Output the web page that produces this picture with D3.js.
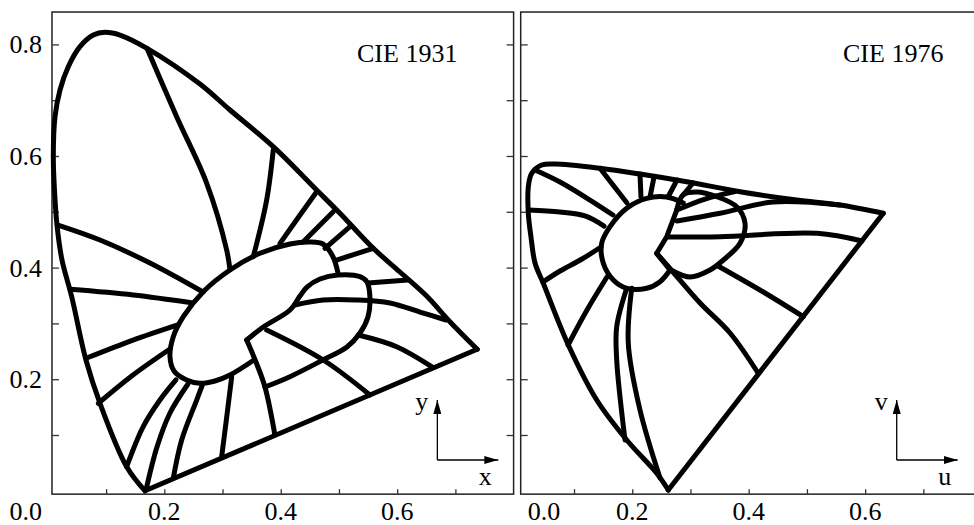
<!DOCTYPE html>
<html>
<head>
<meta charset="utf-8">
<script src="https://cdn.jsdelivr.net/npm/d3@7"></script>
<style>
  body { margin: 0; background: #fff; }
  svg { display: block; }
  text { font-family: "Liberation Serif", "Times New Roman", Times, serif; fill: #000; }
</style>
</head>
<body>
<svg id="chart" width="974" height="525"></svg>
<script>
// ---- data (chromaticity coordinates) ----
var xTicks = [0.1, 0.2, 0.3, 0.4, 0.5, 0.6, 0.7];
var yTicks = [0.1, 0.2, 0.3, 0.4, 0.5, 0.6, 0.7, 0.8];
var yTickLabels = ["0.8", "0.6", "0.4", "0.2"];
var xTickLabels = ["0.2", "0.4", "0.6"];

// CIE 1931 x,y
var locus1931 = [[0.1668,0.000],[0.1353,0.0432],[0.0895,0.1568],[0.0654,0.2344],[0.0409,0.3478],[0.0242,0.4136],
  [0.0156,0.4763],[0.0113,0.539],[0.0093,0.5987],[0.0122,0.6704],[0.0208,0.7183],[0.035,0.76],[0.0551,0.7959],
  [0.078,0.8168],[0.0981,0.8217],[0.1238,0.8168],[0.1702,0.793],[0.2612,0.729],[0.3128,0.6824],[0.3871,0.6167],
  [0.4617,0.539],[0.5017,0.4973],[0.5589,0.4346],[0.6048,0.3921],[0.6506,0.3491],[0.6906,0.303],[0.7375,0.2536]];
var purple1931 = [[0.7375,0.2536],[0.1668,0.000]];
var ellipse1931 = [[0.354,0.2344],[0.3128,0.2075],[0.287,0.1968],[0.2612,0.1926],[0.2384,0.1986],[0.2166,0.2147],
  [0.2097,0.2403],[0.2154,0.2762],[0.2326,0.312],[0.2669,0.3568],[0.3128,0.3957],[0.3643,0.4256],[0.4158,0.4423],
  [0.4502,0.4459],[0.4725,0.4423],[0.4897,0.4195],[0.4983,0.3903]];
var lobe1931 = [[0.3415,0.2702],[0.37,0.2935],[0.4158,0.324],[0.433,0.3491],[0.445,0.3652],[0.4674,0.3796],
  [0.4983,0.3867],[0.5361,0.3837],[0.5481,0.3742],[0.5532,0.3473],[0.5498,0.3115],[0.5361,0.2828],[0.5137,0.2577],
  [0.4725,0.2344],[0.4158,0.2045],[0.3729,0.186]];
var spokes1931 = [
  [[0.1702,0.793],[0.2212,0.6704],[0.2728,0.5511],[0.3071,0.4315],[0.3128,0.3957]],
  [[0.0173,0.4763],[0.0895,0.4495],[0.1754,0.4082],[0.2664,0.3563]],
  [[0.038,0.3611],[0.1467,0.3509],[0.2492,0.3366]],
  [[0.0666,0.238],[0.1462,0.2702],[0.2217,0.2971]],
  [[0.0866,0.1568],[0.1462,0.2075],[0.2097,0.2541]],
  [[0.1353,0.0432],[0.1633,0.1143],[0.1925,0.1627],[0.22,0.1986]],
  [[0.1685,0.0014],[0.1874,0.0785],[0.2097,0.1394],[0.2406,0.1914]],
  [[0.2154,0.0224],[0.2298,0.091],[0.2556,0.1627],[0.2647,0.1878]],
  [[0.2985,0.0611],[0.3076,0.1358],[0.3157,0.2039]],
  [[0.3415,0.2702],[0.3574,0.2308],[0.3729,0.186],[0.39,0.1]],
  [[0.3871,0.6107],[0.3758,0.5211],[0.3528,0.4195]],
  [[0.4617,0.536],[0.4301,0.4898],[0.3987,0.4435]],
  [[0.4902,0.5002],[0.4387,0.4464]],
  [[0.5189,0.4733],[0.476,0.4346]],
  [[0.5589,0.4346],[0.496,0.4136]],
  [[0.6185,0.3778],[0.5498,0.3724]],
  [[0.4244,0.333],[0.4725,0.3419],[0.5309,0.3419],[0.5876,0.3366],[0.6391,0.3204],[0.6838,0.3061]],
  [[0.5331,0.2792],[0.5991,0.2582],[0.6592,0.2224]],
  [[0.3758,0.2882],[0.473,0.2344],[0.5532,0.1717]]
];

// CIE 1976 u',v'
var locus1976 = [[0.2619,0.0014],[0.242,0.0314],[0.1905,0.091],[0.139,0.1627],[0.0902,0.2613],[0.0472,0.3719],
  [0.033,0.4082],[0.0261,0.4548],[0.0215,0.4973],[0.0215,0.545],[0.0273,0.569],[0.0445,0.5839],[0.0673,0.5857],
  [0.1446,0.578],[0.2133,0.5677],[0.2935,0.5539],[0.3851,0.536],[0.4825,0.5211],[0.5568,0.5122],[0.6312,0.4973]];
var purple1976 = [[0.6312,0.4973],[0.2619,0.0014]];
var notch1976 = [[0.2764,0.5032],[0.2592,0.4554],[0.242,0.4256],[0.2649,0.3957]];
var kidney1976 = [[0.2649,0.3957],[0.2477,0.3747],[0.2248,0.3629],[0.1905,0.3629],[0.1675,0.3778],[0.1503,0.4077],
  [0.1475,0.4435],[0.1618,0.4733],[0.1905,0.5063],[0.2248,0.5242],[0.2592,0.5265],[0.2877,0.5158]];
var lobe1976 = [[0.27,0.3939],[0.2992,0.3831],[0.3336,0.3957],[0.3564,0.4136],[0.3851,0.4435],[0.3937,0.4794],
  [0.3794,0.5091],[0.3451,0.5271],[0.3112,0.5355],[0.2872,0.5301],[0.2764,0.5032]];
var spokes1976 = [
  [[0.033,0.5749],[0.0759,0.5534],[0.1274,0.5211],[0.167,0.4943]],
  [[0.0215,0.5032],[0.0759,0.4996],[0.1189,0.4925],[0.1515,0.4745]],
  [[0.1446,0.578],[0.191,0.5158]],
  [[0.2133,0.5677],[0.215,0.5265]],
  [[0.2374,0.5624],[0.2305,0.5265]],
  [[0.2769,0.557],[0.2614,0.5265]],
  [[0.3044,0.5516],[0.2872,0.5301]],
  [[0.2764,0.5032],[0.325,0.5229],[0.3765,0.5364]],
  [[0.2769,0.4835],[0.3507,0.4973],[0.4418,0.5176],[0.5568,0.5122]],
  [[0.2614,0.4548],[0.3507,0.4554],[0.5173,0.4614],[0.5946,0.4476]],
  [[0.242,0.4256],[0.27,0.3921],[0.3164,0.3366],[0.3679,0.2828],[0.416,0.2111]],
  [[0.3473,0.4029],[0.428,0.3545],[0.4938,0.312]],
  [[0.0897,0.2613],[0.1223,0.324],[0.1566,0.3831]],
  [[0.0467,0.3742],[0.0759,0.3939],[0.1137,0.4154],[0.1463,0.4369]],
  [[0.1905,0.3629],[0.1733,0.2941],[0.1733,0.2344],[0.1876,0.091]],
  [[0.1991,0.3629],[0.1932,0.2643],[0.2133,0.1448],[0.2477,0.0229]]
];

// ---- scales ----
var svg = d3.select("#chart");
var serif = "'Liberation Serif', 'Times New Roman', Times, serif";
var xL = d3.scaleLinear().domain([0, 0.8]).range([47.9, 513.6]);
var uR = d3.scaleLinear().domain([0, 0.8]).range([515.8, 981.6]);
var yS = d3.scaleLinear().domain([0, 0.8]).range([490.8, 44.4]);
var xlimL = [0.007, 0.8], ulimR = [0.0084, 0.8], ylim = [-0.006, 0.858];

function panel(g, sx, xlim, drawRightTicks) {
    // frame
    g.append("rect")
	.attr("x", sx(xlim[0])).attr("y", yS(ylim[1]))
	.attr("width", sx(xlim[1]) - sx(xlim[0]))
	.attr("height", yS(ylim[0]) - yS(ylim[1]))
	.style("fill", "none").style("stroke", "#222").style("stroke-width", 1.5);

    g.append("g").attr("transform", "translate(0," + yS(ylim[0]) + ")")
	.call(d3.axisBottom(sx).tickValues(xTicks).tickSize(-5).tickFormat(""));
    g.append("g").attr("transform", "translate(" + sx(xlim[0]) + ",0)")
	.call(d3.axisLeft(yS).tickValues(yTicks).tickSize(-7).tickFormat(""));
    if (drawRightTicks) {
	g.append("g").attr("transform", "translate(" + sx(xlim[1]) + ",0)")
	    .call(d3.axisRight(yS).tickValues(yTicks).tickSize(-7).tickFormat(""));
    }
    g.selectAll(".domain").remove();
    g.selectAll(".tick line").style("stroke", "#333").style("stroke-width", 1.3);
}

var gL = svg.append("g"), gR = svg.append("g");
panel(gL, xL, xlimL, true);
panel(gR, uR, ulimR, false);

function drawCurves(g, sx, smooth, straight) {
    var curve = d3.line().x(function(d) { return sx(d[0]); }).y(function(d) { return yS(d[1]); })
	.curve(d3.curveCatmullRom.alpha(0.5));
    var lin = d3.line().x(function(d) { return sx(d[0]); }).y(function(d) { return yS(d[1]); });
    g.selectAll(null).data(smooth).enter().append("path")
	.attr("d", curve)
	.style("fill", "none").style("stroke", "#000").style("stroke-width", 5)
	.style("stroke-linecap", "round").style("stroke-linejoin", "round");
    g.selectAll(null).data(straight).enter().append("path")
	.attr("d", lin)
	.style("fill", "none").style("stroke", "#000").style("stroke-width", 5)
	.style("stroke-linecap", "round").style("stroke-linejoin", "round");
}

drawCurves(gL, xL, spokes1931.concat([locus1931, ellipse1931, lobe1931]), [purple1931]);
drawCurves(gR, uR, spokes1976.concat([locus1976, kidney1976, lobe1976]), [purple1976, notch1976]);

// ---- tick labels ----
var fs = 26;
function label(g, x, y, anchor, s) {
    return g.append("text").attr("x", x).attr("y", y).attr("text-anchor", anchor)
	.style("font-family", serif).style("font-size", fs + "px").text(s);
}
yTickLabels.forEach(function(d) { label(gL, 42, yS(+d) + 9, "end", d); });
label(gL, 42, 519.5, "end", "0.0");
xTickLabels.forEach(function(d) { label(gL, xL(+d), 519.5, "middle", d); });
label(gR, uR(ulimR[0]) + 7, 519.5, "start", "0.0");
xTickLabels.forEach(function(d) { label(gR, uR(+d), 519.5, "middle", d); });

// ---- titles ----
label(gL, 357, 62, "start", "CIE 1931");
label(gR, 843, 62, "start", "CIE 1976");

// ---- little axis keys ----
var defs = svg.append("defs");
defs.append("marker").attr("id", "head").attr("viewBox", "0 0 14 8")
    .attr("refX", 14).attr("refY", 4).attr("markerWidth", 14).attr("markerHeight", 8)
    .attr("markerUnits", "userSpaceOnUse").attr("orient", "auto")
    .append("path").attr("d", "M0,0 L14,4 L0,8 Z").style("fill", "#000");

function key(g, ox, oy, hx, vy) {
    g.append("path").attr("d", "M" + ox + "," + oy + " V" + (oy - 60))
	.style("stroke", "#000").style("stroke-width", 1.3).style("fill", "none")
	.attr("marker-end", "url(#head)");
    g.append("path").attr("d", "M" + ox + "," + oy + " H" + (ox + 61))
	.style("stroke", "#000").style("stroke-width", 1.3).style("fill", "none")
	.attr("marker-end", "url(#head)");
    label(g, ox - 9, oy - 50, "end", vy);
    label(g, ox + 48, oy + 25, "middle", hx);
}
key(gL, xL(0.669), yS(0.0552), "x", "y");
key(gR, uR(0.6542), yS(0.0552), "u", "v");
</script>
</body>
</html>
